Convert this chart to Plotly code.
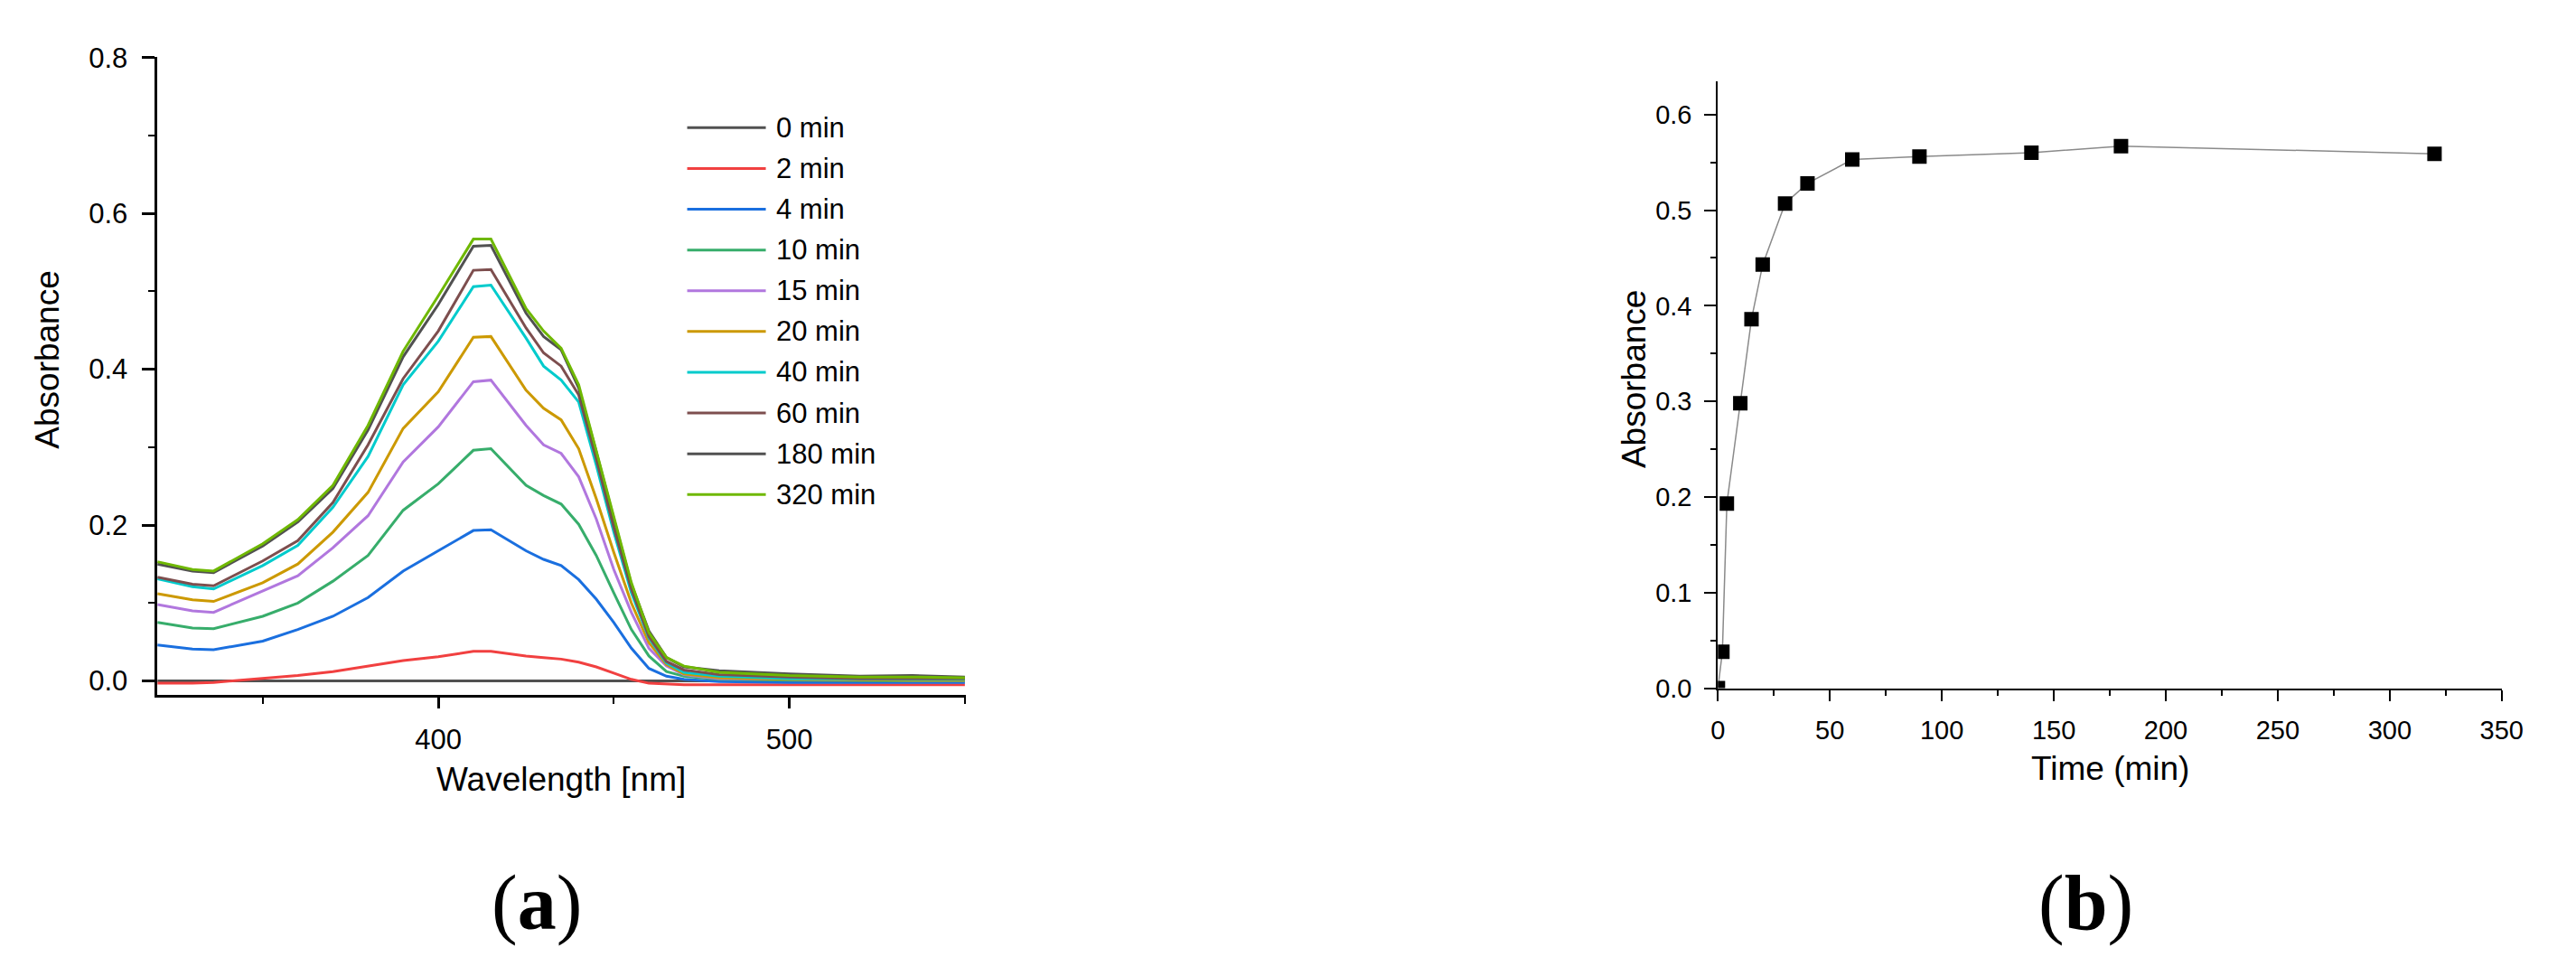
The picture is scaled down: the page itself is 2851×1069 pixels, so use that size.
import plotly.graph_objects as go

# ---- panel (a): UV-vis spectra over time ----
wavelength = [320, 330, 336, 350, 360, 370, 380, 390, 400, 410, 415, 425, 430,
              435, 440, 445, 450, 455, 460, 465, 470, 480, 500, 520, 535, 550]

abs_0 = [0.0] * 26
abs_2 = [-0.003, -0.003, -0.002, 0.003, 0.007, 0.012, 0.019, 0.026, 0.031, 0.038, 0.038, 0.032, 0.030,
         0.028, 0.024, 0.018, 0.010, 0.002, -0.003, -0.004, -0.005, -0.005, -0.005, -0.005, -0.005, -0.005]
abs_4 = [0.046, 0.041, 0.040, 0.051, 0.066, 0.083, 0.107, 0.141, 0.167, 0.193, 0.194, 0.167, 0.156,
         0.148, 0.130, 0.105, 0.075, 0.042, 0.016, 0.006, 0.002, -0.001, -0.002, -0.002, -0.002, -0.002]
abs_10 = [0.075, 0.068, 0.067, 0.083, 0.100, 0.128, 0.161, 0.219, 0.253, 0.296, 0.298, 0.251, 0.238,
          0.227, 0.201, 0.161, 0.113, 0.066, 0.032, 0.012, 0.006, 0.002, 0.001, 0.000, 0.000, 0.000]
abs_15 = [0.098, 0.090, 0.088, 0.115, 0.135, 0.171, 0.212, 0.281, 0.326, 0.384, 0.386, 0.328, 0.303,
          0.292, 0.262, 0.208, 0.143, 0.088, 0.042, 0.019, 0.008, 0.003, 0.002, 0.001, 0.001, 0.001]
abs_20 = [0.112, 0.104, 0.102, 0.126, 0.150, 0.191, 0.242, 0.324, 0.371, 0.441, 0.442, 0.373, 0.350,
          0.335, 0.298, 0.234, 0.165, 0.100, 0.049, 0.021, 0.009, 0.004, 0.002, 0.001, 0.001, 0.001]
abs_40 = [0.131, 0.121, 0.118, 0.148, 0.174, 0.223, 0.288, 0.380, 0.436, 0.506, 0.508, 0.440, 0.404,
          0.386, 0.358, 0.277, 0.191, 0.113, 0.055, 0.023, 0.011, 0.006, 0.003, 0.002, 0.002, 0.002]
abs_60 = [0.133, 0.124, 0.122, 0.154, 0.180, 0.229, 0.303, 0.388, 0.449, 0.527, 0.528, 0.453, 0.421,
          0.404, 0.367, 0.285, 0.197, 0.118, 0.057, 0.025, 0.014, 0.008, 0.005, 0.003, 0.003, 0.003]
abs_180 = [0.150, 0.141, 0.139, 0.173, 0.204, 0.247, 0.322, 0.416, 0.483, 0.558, 0.559, 0.472, 0.442,
           0.425, 0.376, 0.294, 0.208, 0.124, 0.064, 0.030, 0.018, 0.013, 0.009, 0.006, 0.007, 0.005]
abs_320 = [0.153, 0.143, 0.141, 0.176, 0.207, 0.251, 0.328, 0.423, 0.494, 0.567, 0.567, 0.478, 0.449,
           0.427, 0.380, 0.296, 0.210, 0.126, 0.062, 0.030, 0.019, 0.011, 0.007, 0.005, 0.005, 0.004]

series_names = ['0 min', '2 min', '4 min', '10 min', '15 min', '20 min',
                '40 min', '60 min', '180 min', '320 min']
series_values = [abs_0, abs_2, abs_4, abs_10, abs_15, abs_20, abs_40, abs_60, abs_180, abs_320]
series_colors = ['#515151', '#F14040', '#1A6FDF', '#37AD6B', '#B177DE', '#CC9900',
                 '#00CBCC', '#7D4E4E', '#515151', '#6FB802']

# ---- panel (b): absorbance at peak vs time ----
time_min = [0, 2, 4, 10, 15, 20, 30, 40, 60, 90, 140, 180, 320]
abs_peak = [0.0, 0.038, 0.193, 0.298, 0.386, 0.443, 0.507, 0.528, 0.553, 0.556, 0.560, 0.567, 0.559]

FONT = 'Liberation Sans, Arial, sans-serif'
W, H = 2851, 1069

fig = go.Figure()

for name, vals, color in zip(series_names, series_values, series_colors):
    fig.add_trace(go.Scatter(x=wavelength, y=vals, name=name, mode='lines',
                             line=dict(color=color, width=3),
                             xaxis='x', yaxis='y', showlegend=False))

fig.add_trace(go.Scatter(x=time_min, y=abs_peak, mode='lines+markers',
                         line=dict(color='#8a8a8a', width=1.5),
                         marker=dict(symbol='square', size=16, color='black'),
                         xaxis='x2', yaxis='y2', showlegend=False))

axis_common = dict(showline=True, linecolor='black', showgrid=False, zeroline=False,
                   ticks='outside', tickcolor='black', mirror=False)

fig.update_layout(
    width=W, height=H,
    margin=dict(l=0, r=0, t=0, b=0),
    plot_bgcolor='white', paper_bgcolor='white',
    font=dict(family=FONT, color='black'),
    xaxis=dict(axis_common, domain=[160 / W, 1065 / W], anchor='y',
               range=[320, 550.3], tick0=0, dtick=100, ticklen=12, tickwidth=2.5,
               linewidth=2.5, tickfont=dict(size=31), ticklabelstandoff=8,
               minor=dict(dtick=50, ticklen=7, tickwidth=2, ticks='outside', tickcolor='black')),
    yaxis=dict(axis_common, domain=[1 - 768 / H, 1 - 39.5 / H], anchor='x',
               range=[-0.0183, 0.8005], tick0=0, dtick=0.2, tickformat='.1f',
               ticklen=14, tickwidth=2.5, linewidth=2.5, tickfont=dict(size=31),
               ticklabelstandoff=10,
               minor=dict(dtick=0.1, ticklen=7, tickwidth=2, ticks='outside', tickcolor='black')),
    xaxis2=dict(axis_common, domain=[1906.7 / W, 2784.5 / W], anchor='y2',
                range=[0, 350.2], tick0=0, dtick=50, ticklen=12, tickwidth=2,
                linewidth=2, tickfont=dict(size=29), ticklabelstandoff=8,
                minor=dict(dtick=25, ticklen=6, tickwidth=2, ticks='outside', tickcolor='black')),
    yaxis2=dict(axis_common, domain=[1 - 760 / H, 1 - 66.8 / H], anchor='x2',
                range=[0, 0.635], tick0=0, dtick=0.1, tickformat='.1f',
                ticklen=13, tickwidth=2, linewidth=2, tickfont=dict(size=29),
                ticklabelstandoff=8,
                minor=dict(dtick=0.05, ticklen=6, tickwidth=2, ticks='outside', tickcolor='black')),
)

# legend for panel (a), drawn in paper space so the sample lines match the original length
for i, (name, color) in enumerate(zip(series_names, series_colors)):
    yy = 1 - (120 + i * 46.55) / H
    fig.add_shape(type='line', xref='paper', yref='paper',
                  x0=753 / W, x1=841 / W, y0=yy, y1=yy,
                  line=dict(color=color, width=3))
    fig.add_annotation(text=name, xref='paper', yref='paper', x=851 / W, y=yy,
                       xanchor='left', yanchor='middle', showarrow=False,
                       font=dict(size=31, family=FONT, color='black'))

# axis titles
titles = [
    ('Absorbance', 37 / W, 1 - 385 / H, -90),
    ('Wavelength [nm]', 612 / W, 1 - 864 / H, 0),
    ('Absorbance', 1813 / W, 1 - 407 / H, -90),
    ('Time (min)', 2346 / W, 1 - 852 / H, 0),
]
for text, x, y, ang in titles:
    fig.add_annotation(text=text, xref='paper', yref='paper', x=x, y=y,
                       xanchor='center', yanchor='middle', textangle=ang,
                       showarrow=False, font=dict(size=37, family=FONT, color='black'))

# panel labels
for text, x in [('(<b>a</b>)', 585 / W), ('(<b>b</b>)', 2319 / W)]:
    fig.add_annotation(text=text, xref='paper', yref='paper', x=x, y=1 - 1005 / H,
                       xanchor='center', yanchor='middle', showarrow=False,
                       font=dict(size=86, family='Liberation Serif, Times New Roman, serif',
                                 color='black'))

fig.write_html("out.html")
